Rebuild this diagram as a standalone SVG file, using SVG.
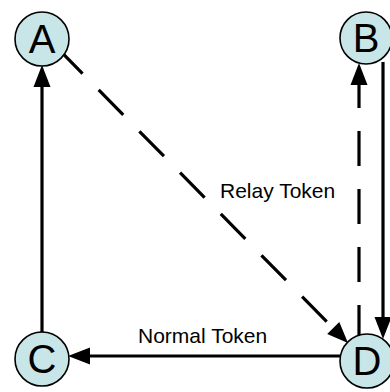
<svg xmlns="http://www.w3.org/2000/svg" width="390" height="392" viewBox="0 0 390 392">
<style>
.node circle{fill:#c8e6e8;stroke:#000;stroke-width:1.6}
.node text{font-family:"Liberation Sans",Arial,sans-serif;font-size:40px;text-anchor:middle;fill:#000}
.edge{stroke:#000;stroke-width:3.2;fill:none}
.dash{stroke-dasharray:35 23}
.head{fill:#000;stroke:none}
.lbl{font-family:"Liberation Sans",Arial,sans-serif;font-size:21px;fill:#000}
</style>
<rect width="390" height="392" fill="#fff"/>
<g id="connectors">
<line class="edge" x1="42" y1="334" x2="42" y2="82"/>
<polygon class="head" points="42,65 33.5,87 50.5,87"/>
<line class="edge dash" x1="359" y1="340" x2="359" y2="84"/>
<polygon class="head" points="359,63 350.5,85 367.5,85"/>
<line class="edge" x1="383" y1="62" x2="383" y2="322"/>
<polygon class="head" points="383,339 374.5,317 391.5,317"/>
<line class="edge" x1="340" y1="356" x2="86" y2="356"/>
<polygon class="head" points="68,356 90,347.5 90,364.5"/>
<line class="edge dash" x1="58" y1="48.6" x2="336" y2="331"/>
<polygon class="head" points="348,343 327.2,334 339.3,322"/>
<text class="lbl" x="220" y="198">Relay Token</text>
<text class="lbl" x="138" y="343">Normal Token</text>
</g>
<g id="A" class="node"><circle cx="42" cy="39" r="27"/><text x="42" y="53.3">A</text></g>
<g id="B" class="node"><circle cx="366" cy="38" r="26"/><text x="366" y="52.3">B</text></g>
<g id="C" class="node"><circle cx="42" cy="359" r="27"/><text x="42" y="373.3">C</text></g>
<g id="D" class="node"><circle cx="367" cy="361" r="27"/><text x="367" y="375.3">D</text></g>
</svg>
